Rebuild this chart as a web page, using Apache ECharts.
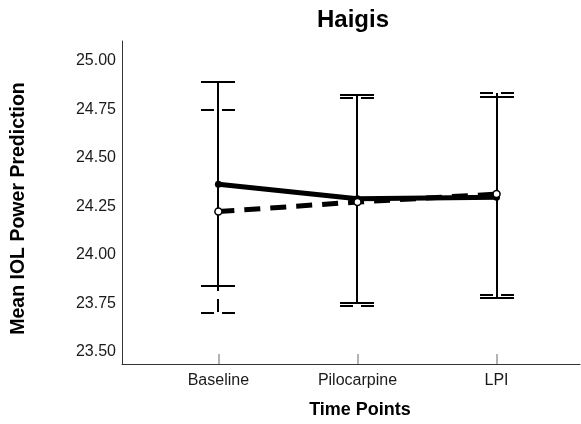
<!DOCTYPE html>
<html>
<head>
<meta charset="utf-8">
<script src="https://cdn.jsdelivr.net/npm/echarts@6/dist/echarts.min.js"></script>
<style>html,body{margin:0;padding:0;background:#fff}#c{width:581px;height:424px}</style>
</head>
<body>
<div id="c"></div>
<script>
var categories = ['Baseline', 'Pilocarpine', 'LPI'];
var solidMean = [24.365, 24.29, 24.298];
var solidLow = [23.84, 23.755, 23.78];
var solidHigh = [24.89, 24.825, 24.816];
var dashedMean = [24.224, 24.273, 24.314];
var dashedLow = [23.70, 23.738, 23.794];
var dashedHigh = [24.748, 24.808, 24.834];
var yTicks = [23.5, 23.75, 24.0, 24.25, 24.5, 24.75, 25.0];

var FONT = '"Liberation Sans", Arial, sans-serif';
var chart = echarts.init(document.getElementById('c'), null, {renderer: 'canvas'});

function pts(arr) { return arr.map(function (v, i) { return [i, v]; }); }
function bars(lo, hi) { return lo.map(function (v, i) { return [i, v, hi[i]]; }); }

function errRender(dash) {
  return function (params, api) {
    var x = api.value(0);
    var lo = api.coord([x, api.value(1)]);
    var hi = api.coord([x, api.value(2)]);
    var cx = Math.round(lo[0]);
    var yl = Math.round(lo[1]);
    var yh = Math.round(hi[1]);
    var hw = 17;
    var st = {stroke: '#000', lineWidth: 2, lineDash: dash, fill: null};
    return {
      type: 'group',
      children: [
        {type: 'line', shape: {x1: cx, y1: yh, x2: cx, y2: yl}, style: st},
        {type: 'line', shape: {x1: cx - hw, y1: yh, x2: cx + hw, y2: yh}, style: st},
        {type: 'line', shape: {x1: cx - hw, y1: yl, x2: cx + hw, y2: yl}, style: st}
      ]
    };
  };
}

chart.setOption({
  animation: false,
  backgroundColor: '#fff',
  title: {
    text: 'Haigis', left: 353, top: 8, textAlign: 'center', padding: 0,
    textStyle: {fontFamily: FONT, fontSize: 24, fontWeight: 'bold', color: '#000'}
  },
  grid: {left: 122, right: 1, top: 41, bottom: 60},
  xAxis: {
    type: 'value', min: -0.693, max: 2.6,
    name: 'Time Points', nameLocation: 'middle', nameGap: 37,
    nameTextStyle: {fontFamily: FONT, fontSize: 18, fontWeight: 'bold', color: '#000', padding: [0, 0, 0, 18]},
    axisLine: {show: true, onZero: false, lineStyle: {color: '#333', width: 1}},
    axisTick: {show: true, inside: true, length: 10, customValues: [0, 1, 2], lineStyle: {color: '#b3b3b3', width: 2}},
    axisLabel: {
      customValues: [0, 1, 2], margin: 9,
      formatter: function (v) { return categories[Math.round(v)]; },
      fontFamily: FONT, fontSize: 16, color: '#1a1a1a'
    },
    splitLine: {show: false}
  },
  yAxis: {
    type: 'value', min: 23.438, max: 25.103,
    name: 'Mean IOL Power Prediction', nameLocation: 'middle', nameGap: 93,
    nameTextStyle: {fontFamily: FONT, fontSize: 19.5, fontWeight: 'bold', color: '#000', padding: [0, 12, 0, 0]},
    axisLine: {show: true, onZero: false, lineStyle: {color: '#333', width: 1}},
    axisTick: {show: false},
    axisLabel: {
      customValues: yTicks, margin: 6,
      formatter: function (v) { return v.toFixed(2); },
      fontFamily: FONT, fontSize: 16, color: '#1a1a1a'
    },
    splitLine: {show: false}
  },
  series: [
    {type: 'custom', z: 1, renderItem: errRender([13, 8]), data: bars(dashedLow, dashedHigh), silent: true},
    {type: 'custom', z: 2, renderItem: errRender(null), data: bars(solidLow, solidHigh), silent: true},
    {
      type: 'line', z: 3, data: pts(solidMean), symbol: 'circle', symbolSize: 7,
      itemStyle: {color: '#000'}, lineStyle: {color: '#000', width: 5}
    },
    {
      type: 'line', z: 4, data: pts(dashedMean), symbol: 'circle', symbolSize: 7,
      itemStyle: {color: '#fff', borderColor: '#000', borderWidth: 1.5},
      lineStyle: {color: '#000', width: 5, type: [16, 10]}
    }
  ]
});
</script>
</body>
</html>
